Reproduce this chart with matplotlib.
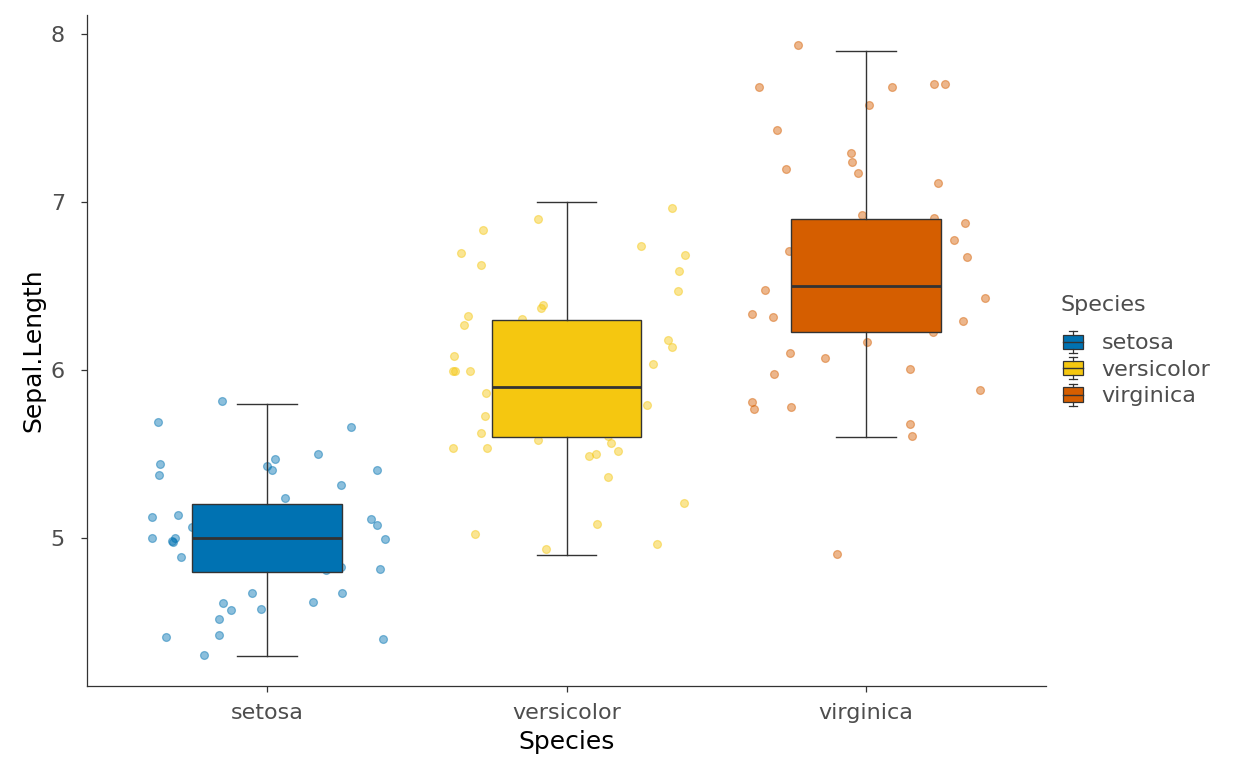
import numpy as np
import matplotlib.pyplot as plt
from matplotlib.patches import Rectangle
from matplotlib.lines import Line2D
from matplotlib.legend_handler import HandlerBase

species = ["setosa", "versicolor", "virginica"]
colors = ["#0072B2", "#F5C710", "#D55E00"]

# box statistics (Sepal.Length)
whis_lo = [4.3, 4.9, 5.6]
q1 = [4.8, 5.6, 6.225]
medians = [5.0, 5.9, 6.5]
q3 = [5.2, 6.3, 6.9]
whis_hi = [5.8, 7.0, 7.9]

# jittered points: horizontal offset from group centre, jittered value
setosa_dx = [-0.151, -0.364, 0.28, 0.027, 0.171, -0.357, 0.001, 0.016, 0.369, -0.36,
             0.247, 0.06, -0.383, -0.296, 0.347, 0.369, -0.251, -0.384, -0.318, -0.308,
             -0.314, 0.396, -0.286, 0.379, 0.247, 0.196, -0.048, 0.252, -0.146, -0.12,
             -0.018, 0.154, -0.161, -0.337, -0.16, 0.387, -0.208, -0.1, 0.05, 0.12]
setosa_y = [5.817, 5.690, 5.662, 5.472, 5.498, 5.439, 5.431, 5.405, 5.407, 5.375,
            5.315, 5.240, 5.123, 5.137, 5.113, 5.077, 5.067, 4.998, 4.984, 4.998,
            4.978, 4.996, 4.889, 4.813, 4.825, 4.810, 4.675, 4.673, 4.611, 4.570,
            4.577, 4.617, 4.516, 4.409, 4.421, 4.397, 4.305, 5.1, 4.9, 5.0]

versicolor_dx = [-0.094, 0.352, -0.279, -0.353, -0.286, 0.248, 0.396, 0.376, 0.372, -0.077,
                 -0.086, -0.33, -0.343, -0.148, 0.34, 0.351, -0.374, 0.29, -0.379, -0.371,
                 -0.321, -0.203, -0.269, -0.273, 0.267, -0.284, -0.379, -0.264, -0.096, 0.14,
                 0.147, 0.173, 0.074, 0.099, 0.137, 0.392, 0.101, -0.304, 0.302, -0.07]
versicolor_y = [6.901, 6.962, 6.833, 6.695, 6.625, 6.738, 6.683, 6.589, 6.468, 6.389,
                6.367, 6.321, 6.270, 6.306, 6.177, 6.137, 6.083, 6.038, 5.994, 5.996,
                5.994, 5.92, 5.863, 5.728, 5.790, 5.625, 5.538, 5.538, 5.583, 5.607,
                5.567, 5.518, 5.486, 5.502, 5.365, 5.210, 5.081, 5.022, 4.962, 4.933]

virginica_dx = [-0.229, -0.359, 0.086, 0.226, 0.263, 0.011, -0.298, -0.05, -0.046, -0.267,
                -0.026, 0.241, -0.014, 0.227, 0.329, 0.294, 0.337, -0.256, -0.336, 0.397,
                -0.382, -0.31, 0.323, 0.222, 0.002, -0.253, -0.138, 0.147, -0.306, 0.379,
                -0.38, -0.374, -0.25, 0.146, 0.153, -0.097, -0.05, -0.02]
virginica_y = [7.935, 7.686, 7.686, 7.700, 7.702, 7.575, 7.430, 7.293, 7.238, 7.198,
               7.171, 7.115, 6.921, 6.907, 6.873, 6.776, 6.675, 6.707, 6.478, 6.430,
               6.331, 6.314, 6.292, 6.228, 6.167, 6.103, 6.070, 6.008, 5.976, 5.879,
               5.811, 5.770, 5.782, 5.679, 5.609, 4.905, 6.5, 6.49]

point_dx = [setosa_dx, versicolor_dx, virginica_dx]
point_y = [setosa_y, versicolor_y, virginica_y]

edge = "#333333"
txt = "#4D4D4D"

fig = plt.figure(figsize=(12.48, 7.71), dpi=100)
ax = fig.add_axes([87 / 1248, 1 - 686 / 771, (1046 - 87) / 1248, (686 - 15) / 771])

for i, sp in enumerate(species):
    pos = i + 1
    xs = pos + np.array(point_dx[i])
    ax.scatter(xs, point_y[i], s=32, facecolor=colors[i], edgecolor=colors[i],
               linewidths=0.9, alpha=0.45, zorder=1)

stats = []
for i in range(3):
    stats.append({"whislo": whis_lo[i], "q1": q1[i], "med": medians[i],
                  "q3": q3[i], "whishi": whis_hi[i], "fliers": []})

bp = ax.bxp(stats, positions=[1, 2, 3], widths=0.5, patch_artist=True,
            showfliers=False, manage_ticks=False,
            boxprops=dict(edgecolor=edge, linewidth=1.0),
            medianprops=dict(color=edge, linewidth=2.0),
            whiskerprops=dict(color=edge, linewidth=1.0),
            capprops=dict(color=edge, linewidth=1.0), capwidths=0.2)
for patch, c in zip(bp["boxes"], colors):
    patch.set_facecolor(c)
    patch.set_zorder(2)
for key in ["medians", "whiskers", "caps"]:
    for ln in bp[key]:
        ln.set_zorder(3)

ax.set_xlim(0.4, 3.6)
ax.set_ylim(4.119, 8.113)
ax.set_xticks([1, 2, 3])
ax.set_xticklabels(species)
ax.set_yticks([5, 6, 7, 8])
ax.tick_params(axis="both", colors=edge, labelcolor=txt, labelsize=16, length=4, width=0.9)
ax.tick_params(axis="x", pad=8)
ax.tick_params(axis="y", pad=12)
for s in ["top", "right"]:
    ax.spines[s].set_visible(False)
for s in ["left", "bottom"]:
    ax.spines[s].set_color(edge)
    ax.spines[s].set_linewidth(0.9)
ax.set_xlabel("Species", fontsize=18, color="black", labelpad=5)
ax.set_ylabel("Sepal.Length", fontsize=18, color="black", labelpad=4)


class BoxHandler(HandlerBase):
    def create_artists(self, legend, orig_handle, xdescent, ydescent, width, height, fontsize, trans):
        x0 = -xdescent
        y0 = -ydescent
        h = height * 1.1
        yb = y0 - (h - height) / 2
        cx = x0 + width / 2
        c = orig_handle.get_facecolor()
        rect = Rectangle((x0, yb + h * 0.17), width, h * 0.66,
                         facecolor=c, edgecolor=edge, linewidth=0.9, transform=trans)
        med = Line2D([x0, x0 + width], [yb + h * 0.5] * 2,
                     color=edge, linewidth=1.0, transform=trans)
        w1 = Line2D([cx, cx], [yb + h * 0.83, yb + h], color=edge, linewidth=0.9, transform=trans)
        w2 = Line2D([cx, cx], [yb, yb + h * 0.17], color=edge, linewidth=0.9, transform=trans)
        c1 = Line2D([cx - width * 0.2, cx + width * 0.2], [yb + h] * 2, color=edge, linewidth=0.9, transform=trans)
        c2 = Line2D([cx - width * 0.2, cx + width * 0.2], [yb] * 2, color=edge, linewidth=0.9, transform=trans)
        return [rect, med, w1, w2, c1, c2]


fig.text(1060 / 1248, 1 - 305 / 771, "Species", fontsize=16, color=txt, ha="left", va="center")
handles = [Rectangle((0, 0), 1, 1, facecolor=c) for c in colors]
leg = fig.legend(handles, species, loc="center left",
                 bbox_to_anchor=(1054 / 1248, 1 - 369 / 771), frameon=False,
                 handler_map={Rectangle: BoxHandler()}, fontsize=16,
                 handlelength=0.9, handleheight=1.0, handletextpad=0.85, labelspacing=0.22,
                 borderaxespad=0.0)
for t in leg.get_texts():
    t.set_color(txt)

fig.savefig("out.png", dpi=100)
